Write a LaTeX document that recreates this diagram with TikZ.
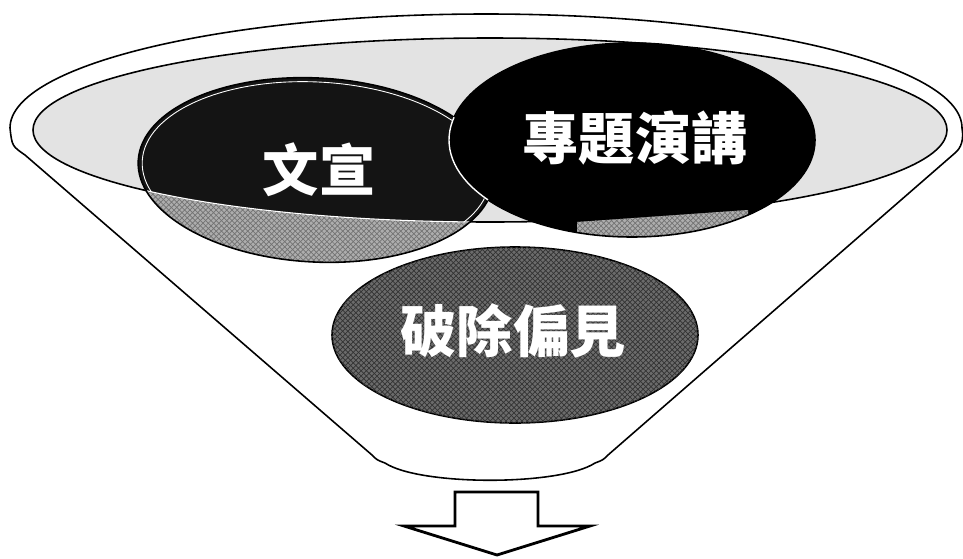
\documentclass[tikz,border=0pt]{standalone}
\usepackage{fontspec}
\usepackage{tikz}
\usetikzlibrary{patterns}
\newfontfamily\cjk{Noto Sans CJK TC}
\definecolor{dotgray}{gray}{0.89}
\definecolor{hatchgray}{gray}{0.68}
\definecolor{darkhatch}{gray}{0.42}

\begin{document}
\begin{tikzpicture}[x=0.02cm, y=-0.02cm, line join=round,
  rimline/.style={draw=black, line width=0.9pt},
  hatchfill/.style={fill=hatchgray, postaction={pattern=crosshatch, pattern color=black!55}},
  labeltext/.style={text=white, inner sep=0pt, font=\cjk\bfseries\fontsize{32}{36}\selectfont}]
  \useasboundingbox (0,0) rectangle (963,558);

  % Funnel body
  \draw[rimline, fill=white] (10,128) arc[start angle=180, end angle=360, x radius=476, y radius=114]
    .. controls (964,140) and (961,148) .. (955,153) -- (608,455)
    .. controls (603,460) .. (595,463)
    .. controls (560,486) and (420,486) .. (385,463)
    .. controls (377,460) .. (372,455) -- (25,155)
    .. controls (12,146) .. (10,128) -- cycle;

  % Inner rim
  \draw[rimline, fill=dotgray] (490,130) ellipse [x radius=457, y radius=92];

  % Left ellipse, dark where it lies inside the rim
  \fill[hatchfill, rotate around={-3:(316,170)}] (316,170) ellipse [x radius=178, y radius=92];
  \begin{scope}
    \clip (490,130) ellipse [x radius=457, y radius=92];
    \fill[black!92, rotate around={-3:(316,170)}] (316,170) ellipse [x radius=178, y radius=92];
    \draw[white, line width=0.5pt, rotate around={-3:(316,170)}] (316,170) ellipse [x radius=174, y radius=88];
  \end{scope}
  \begin{scope}
    \clip[rotate around={-3:(316,170)}] (316,170) ellipse [x radius=178, y radius=92];
    \draw[white, line width=0.6pt] (490,130) ellipse [x radius=457, y radius=92];
  \end{scope}
  \draw[rimline, rotate around={-3:(316,170)}] (316,170) ellipse [x radius=178, y radius=92];

  % Right ellipse with its lower strip
  \fill[black] (632,140) ellipse [x radius=183, y radius=97];
  \begin{scope}
    \clip (632,140) ellipse [x radius=183, y radius=97];
    \fill[hatchfill] (577,222) -- (748,210) -- (748,245) -- (577,245) -- cycle;
  \end{scope}
  \draw[rimline] (632,140) ellipse [x radius=183, y radius=97];
  \begin{scope}
    \clip[rotate around={-3:(316,170)}] (316,170) ellipse [x radius=178, y radius=92];
    \draw[white, line width=0.8pt] (632,140) ellipse [x radius=183, y radius=97];
  \end{scope}

  % Bottom ellipse
  \draw[rimline, fill=darkhatch, postaction={pattern=crosshatch, pattern color=black!80}]
    (515,335) ellipse [x radius=183, y radius=88];

  % Labels
  \node[labeltext] (xuan) at (319,170) {文宣};
  \node[labeltext] (talk) at (635,138) {專題演講};
  \node[labeltext] (bias) at (513,331) {破除偏見};

  % Down arrow
  \draw[line width=1.6pt, fill=white, line join=miter]
    (455,492) -- (538,492) -- (538,526) -- (590,526) -- (497,555) -- (404,526) -- (455,526) -- cycle;
\end{tikzpicture}
\end{document}
